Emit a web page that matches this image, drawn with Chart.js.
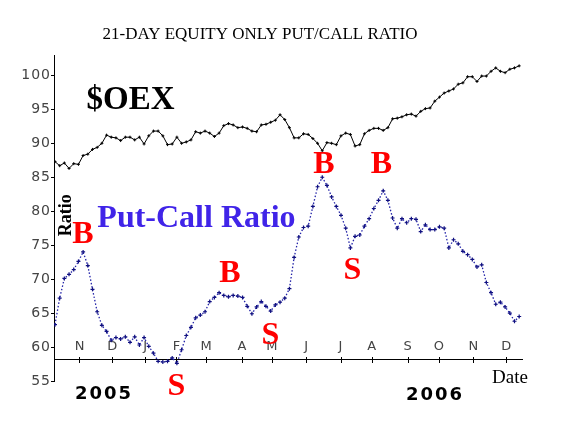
<!DOCTYPE html>
<html>
<head>
<meta charset="utf-8">
<script src="https://cdn.jsdelivr.net/npm/chart.js@4.4.1/dist/chart.umd.min.js"></script>
<style>
  html, body { margin: 0; padding: 0; background: #fff; }
  #chart { display: block; }
</style>
</head>
<body>
<canvas id="chart" width="576" height="432"></canvas>
<script>
// x = trading days counted from Nov 1 2005, one reading every 3 sessions
const startDay = -16;
const stepDays = 3;

const putCall = [
  63.3, 67.2, 70.1, 70.7, 71.4, 72.6, 74.0, 72.0, 68.5, 65.2,
  63.2, 62.3, 61.0, 61.4, 61.2, 61.5, 60.7, 61.5, 60.3, 61.4,
  60.1, 59.1, 57.9, 57.8, 57.9, 58.4, 57.6, 59.6, 61.7, 62.9,
  64.3, 64.7, 65.2, 66.7, 67.3, 68.0, 67.6, 67.4, 67.6, 67.5,
  67.3, 66.0, 64.9, 65.9, 66.7, 66.0, 65.3, 66.2, 66.6, 67.2,
  68.6, 73.2, 76.2, 77.6, 77.8, 80.7, 83.6, 85.0, 83.8, 82.1,
  80.7, 79.4, 77.5, 74.6, 76.3, 76.5, 77.8, 78.9, 80.4, 81.6,
  83.0, 81.6, 79.0, 77.5, 78.9, 78.3, 78.9, 78.8, 77.0, 78.0,
  77.3, 77.3, 77.7, 77.5, 74.6, 75.8, 75.2, 74.1, 73.6, 72.9,
  71.8, 72.1, 69.5, 68.0, 66.3, 66.6, 65.9, 65.0, 63.8, 64.5
];

const oex = [
  87.3, 86.7, 87.1, 86.3, 87.0, 86.9, 88.2, 88.4, 89.1, 89.4,
  90.0, 91.2, 90.9, 90.8, 90.4, 90.9, 90.9, 90.5, 90.9, 89.9,
  91.1, 91.8, 91.8, 91.1, 89.8, 89.9, 90.9, 90.0, 90.2, 90.5,
  91.7, 91.5, 91.8, 91.5, 91.0, 91.5, 92.6, 92.9, 92.7, 92.3,
  92.4, 92.2, 91.8, 91.7, 92.7, 92.8, 93.1, 93.4, 94.2, 93.5,
  92.3, 90.8, 90.8, 91.4, 91.3, 90.7, 90.0, 88.9, 90.1, 90.0,
  89.8, 91.1, 91.5, 91.3, 89.6, 89.8, 91.4, 91.9, 92.2, 92.2,
  91.9, 92.3, 93.6, 93.7, 93.9, 94.2, 94.3, 94.0, 94.7, 95.1,
  95.2, 96.2, 96.8, 97.4, 97.7, 98.0, 98.7, 98.9, 99.8, 99.8,
  99.1, 99.9, 99.9, 100.6, 101.1, 100.6, 100.4, 100.9, 101.1, 101.4
];

// first session of each month
const monthTicks = [0, 21, 42, 62, 81, 104, 123, 145, 167, 187, 210, 230, 252, 273];
const monthLabels = ["N", "D", "J", "F", "M", "A", "M", "J", "J", "A", "S", "O", "N", "D"];
const ratioTicks = [55, 60, 65, 70, 75, 80, 85, 90, 95, 100];

const toPoints = (arr) => arr.map((v, i) => ({ x: startDay + i * stepDays, y: v }));

// text written on the chart, placed in data units
const serif = "'Liberation Serif', 'Times New Roman', serif";
const notes = [
  { text: "$OEX", x: 32.3, y: 96.3, font: "bold 33px " + serif, color: "#000" },
  { text: "Put-Call Ratio", x: 74.5, y: 78.9, font: "bold 32px " + serif, color: "#4024e8" },
  { text: "Ratio", x: -9, y: 79.4, font: "bold 18px " + serif, color: "#000", rotate: -Math.PI / 2 },
  { text: "B", x: 1.9, y: 76.6, font: "bold 32px " + serif, color: "#ff0000" },
  { text: "B", x: 96.0, y: 70.8, font: "bold 32px " + serif, color: "#ff0000" },
  { text: "B", x: 156.1, y: 86.9, font: "bold 32px " + serif, color: "#ff0000" },
  { text: "B", x: 192.9, y: 86.9, font: "bold 32px " + serif, color: "#ff0000" },
  { text: "S", x: 61.7, y: 54.1, font: "bold 32px " + serif, color: "#ff0000" },
  { text: "S", x: 121.9, y: 61.6, font: "bold 32px " + serif, color: "#ff0000" },
  { text: "S", x: 174.3, y: 71.3, font: "bold 32px " + serif, color: "#ff0000" },
  { text: "Date", x: 275.1, y: 55.4, font: "19px " + serif, color: "#000" },
  { text: "2005", x: 15.4, y: 53.1, font: "bold 18px 'DejaVu Sans'", color: "#000", spacing: "2px" },
  { text: "2006", x: 227.1, y: 52.9, font: "bold 18px 'DejaVu Sans'", color: "#000", spacing: "2px" }
];

const notesPlugin = {
  id: "notes",
  beforeDraw(chart) {
    chart.ctx.letterSpacing = "1px";
  },
  afterDraw(chart) {
    const { ctx } = chart;
    const xs = chart.scales.x;
    const ys = chart.scales.y;
    ctx.save();
    ctx.textAlign = "center";
    ctx.textBaseline = "middle";
    notes.forEach((n) => {
      ctx.save();
      ctx.font = n.font;
      ctx.fillStyle = n.color;
      ctx.letterSpacing = n.spacing || "0px";
      ctx.translate(xs.getPixelForValue(n.x), ys.getPixelForValue(n.y));
      if (n.rotate) ctx.rotate(n.rotate);
      ctx.fillText(n.text, 0, 0);
      ctx.restore();
    });
    ctx.letterSpacing = "0px";
    ctx.font = "17px " + serif;
    ctx.fillStyle = "#000";
    ctx.fillText("21-DAY EQUITY ONLY PUT/CALL RATIO", 260, 35);
    ctx.restore();
  }
};

const tickFont = { family: "'DejaVu Sans', sans-serif", size: 13 };

function monthAxis(tickLength, showLabels) {
  return {
    type: "linear",
    bounds: "data",
    min: -16.63,
    max: 282.8,
    position: { y: 58.2 },
    grid: { drawOnChartArea: false, drawTicks: true, tickLength: tickLength, color: "#000" },
    border: { display: true, color: "#000", width: 1 },
    afterBuildTicks: (axis) => {
      axis.ticks = monthTicks.map((v) => ({ value: v }));
    },
    ticks: {
      display: showLabels,
      autoSkip: false,
      maxRotation: 0,
      padding: -23,
      color: "#444",
      font: tickFont,
      callback: (v, i) => monthLabels[i]
    }
  };
}

new Chart(document.querySelector("#chart"), {
  type: "line",
  data: {
    datasets: [
      {
        label: "$OEX",
        data: toPoints(oex),
        borderColor: "#000",
        borderWidth: 1,
        pointStyle: "cross",
        pointRadius: 1.5,
        pointBorderWidth: 1,
        pointBorderColor: "#000",
        tension: 0
      },
      {
        label: "Put-Call Ratio",
        data: toPoints(putCall),
        borderColor: "#2222a8",
        borderWidth: 1.3,
        borderDash: [1.5, 2],
        pointStyle: "cross",
        pointRadius: 2,
        pointBorderWidth: 1.2,
        pointBorderColor: "#101080",
        tension: 0
      }
    ]
  },
  options: {
    responsive: false,
    animation: false,
    layout: { padding: { left: 0, top: 55, right: 54, bottom: 51 } },
    plugins: {
      legend: { display: false },
      title: { display: false },
      tooltip: { enabled: false }
    },
    scales: {
      x: monthAxis(3, true),
      x2: monthAxis(-3, false),
      y: {
        type: "linear",
        bounds: "data",
        min: 55,
        max: 103,
        position: "left",
        afterFit: (s) => { s.width = 54; },
        afterBuildTicks: (axis) => {
          axis.ticks = ratioTicks.map((v) => ({ value: v }));
        },
        grid: { drawOnChartArea: false, drawTicks: true, tickLength: 3, color: "#000" },
        border: { display: true, color: "#000", width: 1 },
        ticks: {
          padding: 0,
          color: "#444",
          font: { family: "'DejaVu Sans', sans-serif", size: 14 }
        }
      }
    }
  },
  plugins: [notesPlugin]
});
</script>
</body>
</html>
